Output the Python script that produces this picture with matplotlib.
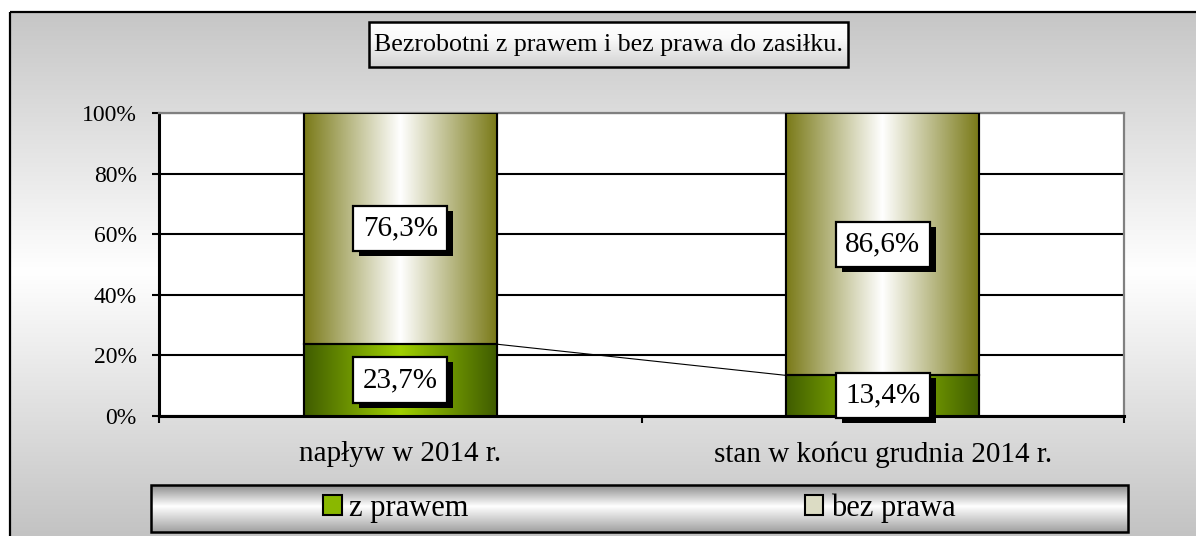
import numpy as np
import matplotlib
matplotlib.use('Agg')
import matplotlib.pyplot as plt
from matplotlib.patches import Rectangle, Patch
from matplotlib.transforms import IdentityTransform

# ---------------- data ----------------
categories = ['napływ w 2014 r.', 'stan w końcu grudnia 2014 r.']
series_names = ['z prawem', 'bez prawa']
z_prawem = [23.7, 13.4]
bez_prawa = [76.3, 86.6]
y_ticks = [0, 20, 40, 60, 80, 100]
y_tick_labels = ['0%', '20%', '40%', '60%', '80%', '100%']
title = 'Bezrobotni z prawem i bez prawa do zasiłku.'

# ---------------- style ----------------
W, H = 1196, 536
plt.rcParams['font.family'] = ['Liberation Serif', 'DejaVu Serif']
fig = plt.figure(figsize=(W / 100, H / 100), dpi=100)
fig.patch.set_facecolor('white')


def vgrad(stops, vals, n=256):
    t = np.linspace(0, 1, n)
    v = np.interp(t, stops, vals) / 255.0
    return np.repeat(v[:, None, None], 3, axis=2)


def hgrad(c_edge, c_mid, n=256):
    t = np.linspace(0, 1, n)
    w = 1 - np.abs(2 * t - 1)
    ce = np.array(matplotlib.colors.to_rgb(c_edge))
    cm = np.array(matplotlib.colors.to_rgb(c_mid))
    img = ce[None, :] * (1 - w[:, None]) + cm[None, :] * w[:, None]
    return img[None, :, :]


# background axes in pixel coordinates
bg = fig.add_axes([0, 0, 1, 1], zorder=0)
bg.set_xlim(0, W)
bg.set_ylim(H, 0)
bg.axis('off')

# chart area gradient
bg.imshow(vgrad([0, 0.49, 1], [198, 255, 194]), extent=(10, W + 5, H + 5, 12),
          aspect='auto', interpolation='bilinear', zorder=0)
bg.add_patch(Rectangle((10, 12), W + 20, H + 20, fill=False, ec='black', lw=1.6, zorder=1))

# title box
bg.imshow(vgrad([0, 0.35, 1], [255, 250, 210]), extent=(369, 848, 67, 22),
          aspect='auto', interpolation='bilinear', zorder=1)
bg.add_patch(Rectangle((369, 22), 479, 45, fill=False, ec='black', lw=1.8, zorder=2))

# legend box
bg.imshow(vgrad([0, 0.45, 1], [140, 255, 160]), extent=(151, 1128, 532, 485),
          aspect='auto', interpolation='bilinear', zorder=1)
bg.add_patch(Rectangle((151, 485), 977, 47, fill=False, ec='black', lw=1.8, zorder=2))
bg.set_xlim(0, W)
bg.set_ylim(H, 0)

fig.text(608.5 / W, 1 - 44.5 / H, title, ha='center', va='center', fontsize=18.7, color='black')

# ---------------- main axes ----------------
ax = fig.add_axes([159 / W, (H - 416) / H, 965 / W, 303 / H], zorder=2)
ax.set_facecolor('white')

x = np.arange(len(categories))
bw = 0.4
bars_z = ax.bar(x, z_prawem, bw, color='#7fae00', edgecolor='black', linewidth=1.5, zorder=3)
bars_b = ax.bar(x, bez_prawa, bw, bottom=z_prawem, color='#e0e0c8', edgecolor='black',
                linewidth=1.5, zorder=3)

grad_green = hgrad('#3f5c00', '#9fd000')
grad_olive = hgrad('#7a7a18', '#ffffff')
for bars, grad in ((bars_z, grad_green), (bars_b, grad_olive)):
    for p in bars:
        px, py, pw, ph = p.get_x(), p.get_y(), p.get_width(), p.get_height()
        im = ax.imshow(grad, extent=(px, px + pw, py, py + ph), aspect='auto',
                       interpolation='bilinear', zorder=3.2)
        im.set_clip_path(p)
        ax.add_patch(Rectangle((px, py), pw, ph, fill=False, ec='black', lw=1.5, zorder=3.4))

# series line between the "z prawem" tops
p0, p1 = bars_z[0], bars_z[1]
ax.plot([p0.get_x() + p0.get_width(), p1.get_x()], [p0.get_height(), p1.get_height()],
        color='black', lw=0.8, zorder=2)

# data labels
labels = []
for i in range(len(categories)):
    for bottom, v in ((0, z_prawem[i]), (z_prawem[i], bez_prawa[i])):
        s = f'{v:.1f}%'.replace('.', ',')
        yc = bottom + v / 2
        t = ax.text(x[i], yc, s, ha='center', va='center', fontsize=21, color='black', zorder=6,
                    bbox=dict(boxstyle='square,pad=0.33', fc='white', ec='black', lw=1.6))
        labels.append(t)

ax.set_xlim(-0.5, len(categories) - 0.5)
ax.set_ylim(0, 100)

ax.set_yticks(y_ticks)
ax.set_yticklabels(y_tick_labels)
ax.yaxis.grid(True, color='black', lw=1.5)
ax.set_axisbelow(True)
ax.tick_params(axis='y', direction='out', length=5, width=1.5, colors='black',
               labelsize=17, pad=11)

ax.set_xticks(x)
ax.set_xticklabels(categories)
ax.set_xticks(np.arange(len(categories) + 1) - 0.5, minor=True)
ax.tick_params(axis='x', which='major', length=0, labelsize=21, pad=18)
ax.tick_params(axis='x', which='minor', direction='out', length=5, width=1.5, color='black')

for side in ('left', 'bottom'):
    ax.spines[side].set_color('black')
    ax.spines[side].set_linewidth(2.2)
for side in ('top', 'right'):
    ax.spines[side].set_color('#808080')
    ax.spines[side].set_linewidth(1.6)

# legend
handles = [Patch(fc='#8ab800', ec='black', lw=1.5), Patch(fc='#dcdcc4', ec='black', lw=1.5)]
fig.legend(handles, series_names, loc='center', bbox_to_anchor=(639.5 / W, 1 - 508 / H),
           ncol=2, frameon=False, fontsize=22, handlelength=0.6, handleheight=0.6,
           handletextpad=0.25, columnspacing=11, borderpad=0, borderaxespad=0)

# shadows behind data label boxes (offset down-right)
fig.canvas.draw()
renderer = fig.canvas.get_renderer()
for t in labels:
    bb = t.get_bbox_patch().get_window_extent(renderer)
    ax.add_patch(Rectangle((bb.x0 + 6, bb.y0 - 5), bb.width, bb.height, transform=IdentityTransform(),
                           fc='black', ec='black', lw=0, zorder=5, clip_on=False))

fig.savefig('out.png', dpi=100, facecolor=fig.get_facecolor())
